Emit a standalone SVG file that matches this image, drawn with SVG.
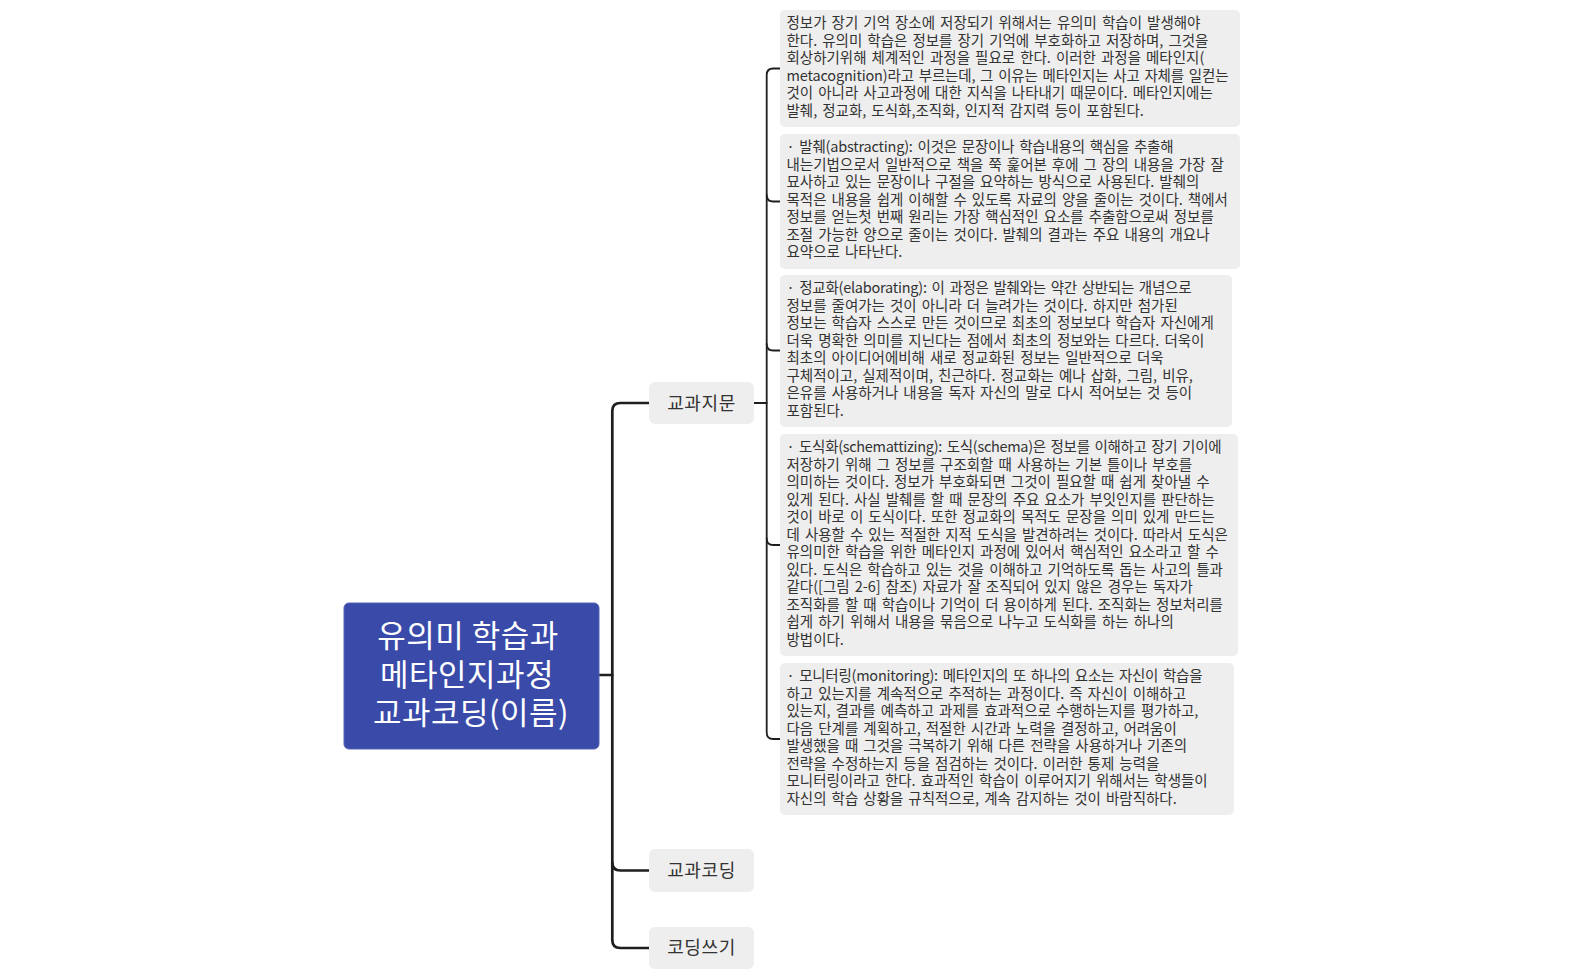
<svg xmlns="http://www.w3.org/2000/svg" width="1583" height="980" viewBox="0 0 1583 980">
<style>
.bg{fill:#ffffff}
.root rect{fill:#3a4aa9;stroke:#5563b8;stroke-width:1}
.root text{fill:#ffffff;font-family:"Noto Sans CJK KR","Noto Sans",sans-serif;font-size:31px;letter-spacing:0.5px;text-anchor:middle}
.l1 rect{fill:#eeeeee}
.l1 text{fill:#333333;font-family:"Noto Sans CJK KR","Noto Sans",sans-serif;font-size:18px;letter-spacing:0.6px;text-anchor:middle}
.l2 rect{fill:#eeeeee}
.l2 text{fill:#333333;font-family:"Noto Sans CJK KR","Noto Sans",sans-serif;font-size:14.5px;word-spacing:1.8px}
.c1{fill:none;stroke:#1e1e1e;stroke-width:2.7;stroke-linecap:round}
.c2{fill:none;stroke:#1e1e1e;stroke-width:1.8;stroke-linecap:round}
</style>
<rect class="bg" x="0" y="0" width="1583" height="980"/>
<g id="connectors">
<path class="c1" d="M599,675 H612.3"/>
<path class="c1" d="M649,403 H620.3 Q612.3,403 612.3,411 V940 Q612.3,948 620.3,948 H649"/>
<path class="c1" d="M612.3,862.5 Q612.3,870.5 620.3,870.5 H649"/>
<path class="c2" d="M754,403 H766.7"/>
<path class="c2" d="M780,68.5 H773.2 Q766.7,68.5 766.7,75 V732.5 Q766.7,739 773.2,739 H780"/>
<path class="c2" d="M766.7,195 Q766.7,201.5 773.2,201.5 H780"/>
<path class="c2" d="M766.7,344 Q766.7,350.5 773.2,350.5 H780"/>
<path class="c2" d="M766.7,538.5 Q766.7,545 773.2,545 H780"/>
</g>
<g id="root" class="root">
<rect x="344" y="603" width="255" height="146" rx="5"/>
<text x="468" y="647">유의미 학습과</text>
<text x="467" y="685.5">메타인지과정</text>
<text x="471" y="724">교과코딩(이름)</text>
</g>
<g id="n-gyogwajimun" class="l1">
<rect x="649" y="382" width="105" height="42" rx="6"/>
<text x="701.5" y="410">교과지문</text>
</g>
<g id="n-gyogwacoding" class="l1">
<rect x="649" y="849" width="105" height="43" rx="6"/>
<text x="701.5" y="877">교과코딩</text>
</g>
<g id="n-codingsseugi" class="l1">
<rect x="649" y="927" width="105" height="42" rx="6"/>
<text x="701.5" y="954">코딩쓰기</text>
</g>
<g id="t1" class="l2">
<rect x="780" y="10" width="460" height="117" rx="5"/>
<text x="786.5" y="28">정보가 장기 기억 장소에 저장되기 위해서는 유의미 학습이 발생해야</text>
<text x="786.5" y="45.5">한다. 유의미 학습은 정보를 장기 기억에 부호화하고 저장하며, 그것을</text>
<text x="786.5" y="63">회상하기위해 체계적인 과정을 필요로 한다. 이러한 과정을 메타인지(</text>
<text x="786.5" y="80.5" textLength="442" lengthAdjust="spacing">metacognition)라고 부르는데, 그 이유는 메타인지는 사고 자체를 일컫는</text>
<text x="786.5" y="98">것이 아니라 사고과정에 대한 지식을 나타내기 때문이다. 메타인지에는</text>
<text x="786.5" y="115.5">발췌, 정교화, 도식화,조직화, 인지적 감지력 등이 포함된다.</text>
</g>
<g id="t2" class="l2">
<rect x="780" y="134" width="460" height="135" rx="5"/>
<text x="786.5" y="152" textLength="387" lengthAdjust="spacing">· 발췌(abstracting): 이것은 문장이나 학습내용의 핵심을 추출해</text>
<text x="786.5" y="169.5">내는기법으로서 일반적으로 책을 쭉 훑어본 후에 그 장의 내용을 가장 잘</text>
<text x="786.5" y="187">묘사하고 있는 문장이나 구절을 요약하는 방식으로 사용된다. 발췌의</text>
<text x="786.5" y="204.5">목적은 내용을 쉽게 이해할 수 있도록 자료의 양을 줄이는 것이다. 책에서</text>
<text x="786.5" y="222">정보를 얻는첫 번째 원리는 가장 핵심적인 요소를 추출함으로써 정보를</text>
<text x="786.5" y="239.5">조절 가능한 양으로 줄이는 것이다. 발췌의 결과는 주요 내용의 개요나</text>
<text x="786.5" y="257">요약으로 나타난다.</text>
</g>
<g id="t3" class="l2">
<rect x="780" y="275" width="452" height="152" rx="5"/>
<text x="786.5" y="293" textLength="405" lengthAdjust="spacing">· 정교화(elaborating): 이 과정은 발췌와는 약간 상반되는 개념으로</text>
<text x="786.5" y="310.5">정보를 줄여가는 것이 아니라 더 늘려가는 것이다. 하지만 첨가된</text>
<text x="786.5" y="328">정보는 학습자 스스로 만든 것이므로 최초의 정보보다 학습자 자신에게</text>
<text x="786.5" y="345.5">더욱 명확한 의미를 지닌다는 점에서 최초의 정보와는 다르다. 더욱이</text>
<text x="786.5" y="363">최초의 아이디어에비해 새로 정교화된 정보는 일반적으로 더욱</text>
<text x="786.5" y="380.5">구체적이고, 실제적이며, 친근하다. 정교화는 예나 삽화, 그림, 비유,</text>
<text x="786.5" y="398">은유를 사용하거나 내용을 독자 자신의 말로 다시 적어보는 것 등이</text>
<text x="786.5" y="415.5">포함된다.</text>
</g>
<g id="t4" class="l2">
<rect x="780" y="434" width="458" height="222" rx="5"/>
<text x="786.5" y="452" textLength="435" lengthAdjust="spacing">· 도식화(schemattizing): 도식(schema)은 정보를 이해하고 장기 기이에</text>
<text x="786.5" y="469.5">저장하기 위해 그 정보를 구조회할 때 사용하는 기본 틀이나 부호를</text>
<text x="786.5" y="487">의미하는 것이다. 정보가 부호화되면 그것이 필요할 때 쉽게 찾아낼 수</text>
<text x="786.5" y="504.5">있게 된다. 사실 발췌를 할 때 문장의 주요 요소가 부잇인지를 판단하는</text>
<text x="786.5" y="522">것이 바로 이 도식이다. 또한 정교화의 목적도 문장을 의미 있게 만드는</text>
<text x="786.5" y="539.5">데 사용할 수 있는 적절한 지적 도식을 발견하려는 것이다. 따라서 도식은</text>
<text x="786.5" y="557">유의미한 학습을 위한 메타인지 과정에 있어서 핵심적인 요소라고 할 수</text>
<text x="786.5" y="574.5">있다. 도식은 학습하고 있는 것을 이해하고 기억하도록 돕는 사고의 틀과</text>
<text x="786.5" y="592">같다([그림 2-6] 참조) 자료가 잘 조직되어 있지 않은 경우는 독자가</text>
<text x="786.5" y="609.5">조직화를 할 때 학습이나 기억이 더 용이하게 된다. 조직화는 정보처리를</text>
<text x="786.5" y="627">쉽게 하기 위해서 내용을 묶음으로 나누고 도식화를 하는 하나의</text>
<text x="786.5" y="644.5">방법이다.</text>
</g>
<g id="t5" class="l2">
<rect x="780" y="663" width="454" height="152" rx="5"/>
<text x="786.5" y="681" textLength="416" lengthAdjust="spacing">· 모니터링(monitoring): 메타인지의 또 하나의 요소는 자신이 학습을</text>
<text x="786.5" y="698.5">하고 있는지를 계속적으로 추적하는 과정이다. 즉 자신이 이해하고</text>
<text x="786.5" y="716">있는지, 결과를 예측하고 과제를 효과적으로 수행하는지를 평가하고,</text>
<text x="786.5" y="733.5">다음 단계를 계획하고, 적절한 시간과 노력을 결정하고, 어려움이</text>
<text x="786.5" y="751">발생했을 때 그것을 극복하기 위해 다른 전략을 사용하거나 기존의</text>
<text x="786.5" y="768.5">전략을 수정하는지 등을 점검하는 것이다. 이러한 통제 능력을</text>
<text x="786.5" y="786">모니터링이라고 한다. 효과적인 학습이 이루어지기 위해서는 학생들이</text>
<text x="786.5" y="803.5">자신의 학습 상황을 규칙적으로, 계속 감지하는 것이 바람직하다.</text>
</g>
</svg>
